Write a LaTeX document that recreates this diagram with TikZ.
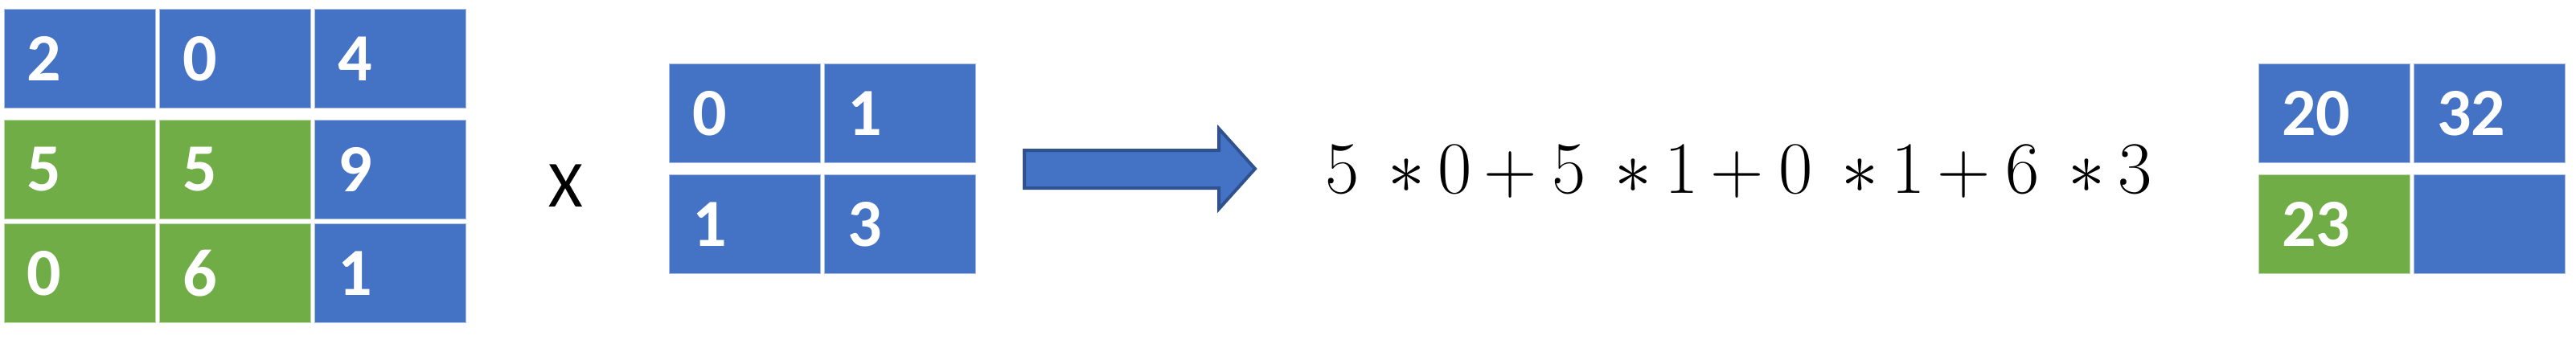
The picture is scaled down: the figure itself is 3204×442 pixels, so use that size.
\documentclass[tikz,border=0pt]{standalone}
\usepackage{fix-cm}
\usepackage{fontspec}
\newfontfamily\cellfont{Carlito}
\usepackage{tikz}
\usetikzlibrary{positioning}
\definecolor{cellblue}{HTML}{4472C4}
\definecolor{cellgreen}{HTML}{70AD47}
\definecolor{arrowline}{HTML}{2F528F}
\newcommand{\tmul}{\mkern7mu{\ast}\mkern3mu}
\newcommand{\tplus}{\mkern3mu{+}\mkern3.7mu}

\begin{document}
\begin{tikzpicture}[
    x=0.25pt, y=-0.25pt,
    cell/.style={rectangle, draw=white, draw opacity=0.55, line width=0.4pt, outer sep=0pt, minimum width=47.25pt, minimum height=31pt, inner xsep=7.25pt, inner ysep=0pt, text width=32.75pt, align=left, text=white, font=\cellfont\bfseries\fontsize{21}{21}\selectfont, anchor=north west},
    bluecell/.style={cell, fill=cellblue},
    greencell/.style={cell, fill=cellgreen},
    blockarrow/.style={draw=arrowline, line width=1pt, fill=cellblue, line join=miter},
    sign/.style={font=\cellfont\fontsize{20.5}{20.5}\selectfont, inner sep=0pt}
]
\useasboundingbox (0,0) rectangle (3204,442);

% Input matrix
\node[bluecell] (a11) at (5,11) {2};
\node[bluecell, right=1pt of a11] (a12) {0};
\node[bluecell, right=1pt of a12] (a13) {4};
\node[greencell] (a21) at (5,149) {5};
\node[greencell, right=1pt of a21] (a22) {5};
\node[bluecell, right=1pt of a22] (a23) {9};
\node[greencell, below=1.25pt of a21] (a31) {0};
\node[greencell, right=1pt of a31] (a32) {6};
\node[bluecell, right=1pt of a32] (a33) {1};

% Kernel
\node[sign] (times) at (704,231) {X};
\node[bluecell] (k11) at (832,79) {0};
\node[bluecell, right=1pt of k11] (k12) {1};
\node[bluecell, below=3.5pt of k11] (k21) {1};
\node[bluecell, right=1pt of k21] (k22) {3};

% Arrow
\coordinate (tail) at (1274,210);
\draw[blockarrow] (tail |- 0,187) -- (1516,187) -- (1516,160) -- (1561,210)
    -- (1516,260) -- (1516,234) -- (tail |- 0,234) -- cycle;

% Sum of products
\node[anchor=base west, inner sep=0pt, font=\fontsize{23}{27}\selectfont] (sum) at (1648,240)
    {$5\tmul0\tplus5\tmul1\tplus0\tmul1\tplus6\tmul3$};

% Output matrix
\node[bluecell] (o11) at (2809,79) {20};
\node[bluecell, right=1pt of o11] (o12) {32};
\node[greencell, below=3.5pt of o11] (o21) {23};
\node[bluecell, right=1pt of o21] (o22) {};

\end{tikzpicture}
\end{document}
